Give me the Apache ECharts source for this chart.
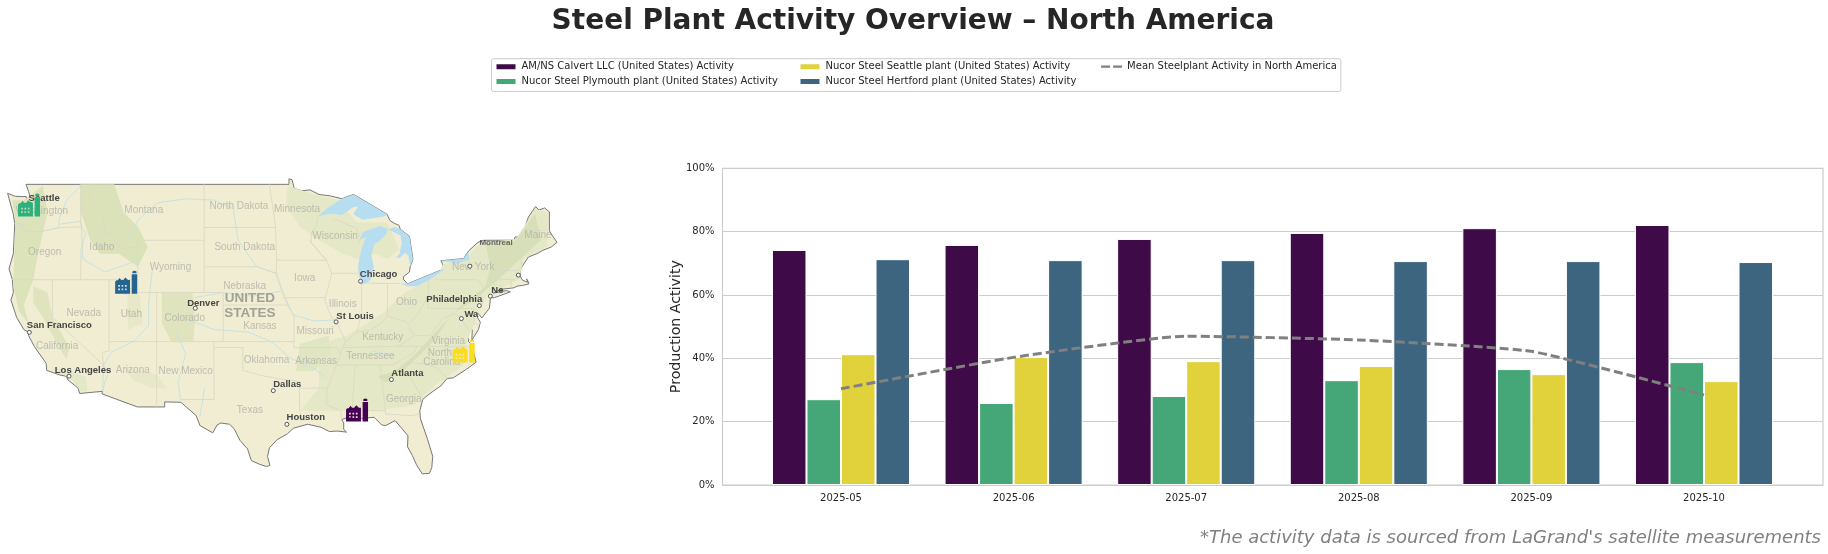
<!DOCTYPE html>
<html>
<head>
<meta charset="utf-8">
<script src="https://cdn.jsdelivr.net/npm/echarts@6/dist/echarts.min.js"></script>
<style>html,body{margin:0;padding:0;background:#fff}#c{width:1828px;height:554px}</style>
</head>
<body>
<div id="c"></div>
<script>
const categories = ['2025-05','2025-06','2025-07','2025-08','2025-09','2025-10'];
const calvert  = [74.2,75.8,77.7,79.6,81.1,82.1];
const plymouth = [27.1,25.9,28.1,33.1,36.6,38.8];
const seattle  = [41.3,40.4,39.1,37.6,35,32.8];
const hertford = [71.3,71,71,70.7,70.7,70.4];
const meanActivity = [30.4,40.3,47.0,45.8,42.2,28.4];
const yTicks = [0,20,40,60,80,100];

const usOutline = [[-124.7,48.38],[-123.9,48.17],[-123.1,48.15],[-122.75,48.15],[-122.6,47.4],[-122.4,47.5],[-122.25,47.95],[-122.5,48.5],[-122.76,49],[-95.15,49],[-95.15,49.38],[-94.82,49.32],[-94.6,48.72],[-93.8,48.55],[-92.95,48.62],[-92,48.3],[-90.8,48.2],[-89.6,48],[-88.37,48.3],[-84.85,46.9],[-84.55,46.45],[-84.1,46.25],[-83.6,46.1],[-83.45,45.8],[-82.5,45.3],[-82.13,43.6],[-82.42,43],[-82.5,42.6],[-83.1,42.25],[-83.15,42.05],[-82.7,41.68],[-78.93,42.83],[-79.05,43.27],[-79.2,43.46],[-76.8,43.63],[-76.3,44.2],[-75.3,44.85],[-74.7,45],[-71.5,45.01],[-71.4,45.25],[-70.85,45.25],[-70.4,45.8],[-70.25,46.2],[-70,46.7],[-69.25,47.45],[-68.9,47.2],[-68.3,47.35],[-67.8,47.07],[-67.8,45.7],[-67.45,45.3],[-67,44.85],[-67.6,44.5],[-68.5,44.25],[-69.1,44],[-70,43.75],[-70.6,43.1],[-70.8,42.85],[-70.9,42.3],[-70.6,41.95],[-70,41.8],[-70.2,42.07],[-69.95,41.68],[-70.65,41.55],[-71.2,41.5],[-71.5,41.37],[-72.9,41.25],[-73.7,40.95],[-72.3,41.15],[-71.9,41.05],[-73.6,40.58],[-74,40.58],[-74,40.45],[-74.1,39.75],[-74.9,38.95],[-75.15,39.2],[-75.55,39.5],[-75.4,39.05],[-75.05,38.6],[-75.25,38],[-75.95,37.1],[-75.9,37.9],[-76.2,38.6],[-76.5,39.2],[-76.4,38.4],[-76.3,37.8],[-76.3,37],[-75.95,36.75],[-75.5,35.25],[-76.5,34.65],[-77.9,33.9],[-78.55,33.85],[-79.2,33.2],[-80.4,32.5],[-81.1,32],[-81.4,31],[-81.35,30.3],[-80.6,28.4],[-80.05,26.8],[-80.15,25.75],[-80.4,25.2],[-81.15,25.15],[-81.75,26],[-82.2,26.9],[-82.7,27.7],[-82.65,28.7],[-83.4,29.5],[-84,30.1],[-85,29.65],[-85.4,29.7],[-86.2,30.4],[-87.5,30.3],[-88,30.25],[-88.9,30.4],[-89.6,30.2],[-89.4,29.9],[-89.4,29.3],[-89.1,29.05],[-90.1,29.15],[-90.9,29.1],[-91.8,29.5],[-93.2,29.77],[-94.7,29.4],[-95.3,28.9],[-96.4,28.35],[-97.2,27.6],[-97.4,26.8],[-97.15,25.95],[-97.5,25.85],[-98.2,26.05],[-99.1,26.4],[-99.5,27.5],[-100.3,28.3],[-100.9,29.35],[-101.4,29.77],[-102.3,29.88],[-102.7,29.7],[-103.15,28.98],[-104.5,29.65],[-104.9,30.55],[-106.5,31.75],[-108.2,31.78],[-108.2,31.33],[-111.07,31.33],[-114.8,32.5],[-114.72,32.72],[-117.13,32.53],[-117.3,33],[-118.4,33.75],[-118.5,34.03],[-119.2,34.15],[-120.6,34.55],[-120.65,35.15],[-121.9,36.6],[-122.5,37.5],[-122.5,37.78],[-123,38],[-123.75,39],[-124.35,40.4],[-124.1,41],[-124.2,42],[-124.55,42.85],[-124.1,44],[-123.95,46.2],[-124.1,46.9],[-124.7,48.38]];

const terrain = {
  east: [[-92,36],[-92,33],[-94,31],[-90,31],[-86,31],[-82,31.5],[-81.5,32],[-79.4,33.5],[-76.8,35],[-76.5,36.8],[-75.2,39.6],[-74.3,40.8],[-71,42],[-70.5,43.6],[-68,44.6],[-67.95,47],[-69.3,47.3],[-71.3,45.1],[-75,44.8],[-76.1,44],[-76.2,43.6],[-79,43.2],[-79.5,42.4],[-81,41.7],[-83,41],[-85,39.5],[-87,38.5],[-89,37.5],[-91,37]],
  lakes: [[-95.3,48.9],[-92,48.2],[-90,47.9],[-88,46.3],[-84.9,46.3],[-84.3,45.5],[-83.6,44.3],[-84.8,43.6],[-86.1,44],[-87.5,43.5],[-89.5,44],[-92,45],[-94,46],[-95.5,47.5]],
  appalachia: [[-85.8,34],[-84,34.5],[-81.8,36],[-79.5,38],[-77,40],[-74.5,41.5],[-74,43],[-74.5,44.8],[-71.5,44.9],[-69.3,46.9],[-68.7,45],[-71,43.5],[-73.5,41.8],[-75.5,40.5],[-78,39.3],[-80,37],[-82.5,35],[-85,33.5]],
  ozarks: [[-94,36.8],[-91,37.5],[-90.7,36],[-92.5,34.5],[-94.4,34.5]],
  cascades: [[-124.2,47.9],[-123,47.9],[-121,48.9],[-120.5,47],[-121.5,44],[-122,42],[-123,40],[-122.5,38.5],[-123.5,39.5],[-124.1,41.5],[-124,44],[-123.9,46.5]],
  rockiesNorth: [[-117,49],[-113.5,49],[-112.5,47],[-111,46],[-110,44.5],[-111,43],[-113,44],[-115,44],[-116,45],[-117,47]],
  sierra: [[-122,41.5],[-120.5,41],[-120,39],[-118.2,36.5],[-118.5,35.5],[-119.3,36.5],[-121,39],[-122,40.2]],
  rockiesCentral: [[-108.5,41],[-105.3,41],[-105,39],[-105.2,37],[-107.5,37],[-108.5,38.5]],
  socal: [[-120.3,34.7],[-118.7,34.6],[-116.5,34],[-116.3,32.8],[-117,32.7],[-117.9,33.7],[-119,34.3]],
  wasatch: [[-112,41.5],[-110.8,40.8],[-110.5,38.5],[-112,38],[-112.2,39.5]],
  gila: [[-112.5,34.8],[-109,34.2],[-108,33],[-109.5,33],[-111.5,33.7]]
};
const lakes = {
  superior: [[-92.1,46.75],[-90.8,46.95],[-89.6,46.85],[-88.4,47.4],[-87.9,47.45],[-88.4,46.9],[-87.4,46.5],[-85.5,46.7],[-85,46.8],[-84.85,46.9],[-88.37,48.3],[-89.6,48],[-91,47.4]],
  michigan: [[-87.55,41.65],[-87.8,42.3],[-87.9,43],[-87.7,43.8],[-87.5,44.4],[-87.05,45.25],[-87.6,45.1],[-88,44.55],[-87.4,45.6],[-86.5,45.85],[-85.5,46.05],[-84.75,45.8],[-85,45.4],[-85.6,45],[-86.2,44.7],[-86.5,43.9],[-86.25,43],[-86.5,42.1],[-87,41.7]],
  huron: [[-84.7,45.8],[-83.45,45.35],[-83.3,44.8],[-83.55,44],[-83.9,43.7],[-83.5,43.7],[-82.95,44.07],[-82.6,43.85],[-82.42,43],[-82.13,43.6],[-82.5,45.3],[-83.45,45.8],[-84.1,46]],
  erie: [[-83.45,41.72],[-82.7,41.5],[-81.7,41.5],[-80.5,41.95],[-79,42.7],[-78.93,42.83],[-82.7,41.68]],
  ontario: [[-79.2,43.46],[-77.5,43.25],[-76.2,43.55],[-76.3,44.2],[-76.8,43.63]],
  saltLake: [[-112.7,41.6],[-112.1,41.3],[-112.2,40.8],[-112.9,41]]
};
const stateLines = [
 [[-124,46.25],[-123.2,46.15],[-122.8,45.65],[-121.2,45.65],[-119.3,45.93],[-116.92,46]],
 [[-117.04,49],[-117.04,46.4],[-116.92,46],[-116.5,45.5],[-117,44.3],[-117.03,42]],
 [[-124.2,42],[-111.05,42]],
 [[-116.05,49],[-116.05,48],[-114.7,46.7],[-114.4,45.55],[-113.9,45.6],[-113.4,44.8],[-112.8,44.4],[-111.05,44.5]],
 [[-111.05,45],[-104.05,45]],[[-111.05,45],[-111.05,41],[-104.05,41]],[[-104.05,49],[-104.05,41]],
 [[-114.04,42],[-114.04,36.2],[-114.75,36.1],[-114.63,35],[-114.13,34.3],[-114.5,33.5],[-114.72,32.72]],
 [[-109.05,41],[-109.05,31.33]],[[-114.04,37],[-102.05,37],[-102.05,41],[-104.05,41]],
 [[-120,42],[-120,39],[-114.63,35]],[[-103.05,37],[-103,32],[-106.5,32]],
 [[-103,36.5],[-100,36.5],[-100,34.56],[-98,34.1],[-96,33.8],[-94.5,33.65],[-94.04,33.55],[-94.04,31],[-93.7,30.1]],
 [[-102.05,37],[-94.62,37]],[[-102.05,40],[-95.3,40]],[[-104.05,43],[-98.5,43],[-96.5,42.5],[-96,41.5],[-95.3,40],[-94.62,39.1],[-94.62,36.5]],
 [[-104.05,45.94],[-96.56,45.94]],[[-97.2,49],[-96.56,46],[-96.45,43.5],[-96.5,42.5]],[[-96.45,43.5],[-91.22,43.5]],
 [[-95.77,40.58],[-91.4,40.6]],[[-94.62,36.5],[-90.15,36.5],[-89.7,36]],[[-94.04,33],[-91.15,33]],
 [[-92.1,46.75],[-92.3,46],[-92.8,45.5],[-92.8,44.8],[-91.22,43.5],[-90.65,42.5],[-91.1,41.2],[-91.4,40.4],[-90.7,39],[-90.2,38.7],[-89.2,37],[-89.5,36.5],[-90.1,35.1],[-91.15,33],[-91.2,31.5],[-89.7,31],[-89.6,30.2]],
 [[-89.1,37],[-88,37.8],[-86.5,38],[-85.5,38.5],[-84.8,39.1],[-83,38.7],[-82.6,38.4],[-81.7,39.2],[-80.6,40.6]],
 [[-90.65,42.5],[-87.8,42.5]],[[-90.4,46.55],[-88.1,45.9],[-87.6,45.1]],[[-87.53,41.7],[-87.53,39.3],[-88,37.8]],[[-84.8,41.7],[-84.8,39.1]],[[-86.9,41.75],[-84.8,41.7],[-83.45,41.72]],
 [[-80.52,42],[-80.52,39.72]],[[-79.76,42.25],[-79.76,42],[-75.35,42],[-74.7,41.35],[-75.1,40.9],[-74.75,40.2],[-75.5,39.8]],[[-80.52,39.72],[-75.8,39.72],[-75.7,38.45],[-75.05,38.45]],
 [[-73.35,45],[-73.25,42.75],[-73.5,42.05],[-73.65,41]],[[-73.5,42.05],[-71.4,42]],[[-73.25,42.75],[-71.3,42.7],[-70.8,42.85]],[[-71.5,45],[-72.4,43.5],[-72.45,42.73]],[[-71.05,45.3],[-70.7,43.1]],[[-71.8,42],[-71.8,41.4]],
 [[-89.5,36.5],[-83.7,36.6],[-81.7,36.6],[-75.9,36.55]],[[-84.3,35],[-82,36.1],[-81.7,36.6]],[[-90.1,35],[-84.3,35]],
 [[-83.1,35],[-82.3,35.2],[-81,35.1],[-79.7,34.8],[-78.55,33.85]],[[-83.1,35],[-81.1,32.05]],[[-85.6,35],[-85.15,32],[-85,30.7],[-82.2,30.55],[-81.45,30.7]],[[-87.6,31],[-85,31]],[[-87.6,31],[-87.5,30.3]],[[-88.2,35],[-88.45,31.9],[-88.4,30.3]],
 [[-83.7,36.6],[-81.95,37.5],[-82.6,38.2]],[[-81.95,37.5],[-80.3,37.5],[-79,38.9],[-77.7,39.3],[-77,38.8],[-76.3,38]]
];
const rivers = [
 [[-117,48.9],[-118.5,47.9],[-119.3,46.5],[-119.3,45.93],[-121.2,45.65],[-122.8,45.65],[-123.9,46.2]],
 [[-110.7,43.6],[-112.5,43.1],[-114.5,42.6],[-116.8,43.6],[-116.9,45.2],[-117,46.4],[-119.1,46.2]],
 [[-112,45],[-111,46.5],[-109,47.7],[-106,48],[-103,47.9],[-101,47.3],[-100.5,45],[-98.5,43],[-96.5,42.5],[-96,41.3],[-94.7,39.2],[-92.5,38.7],[-90.2,38.8]],
 [[-93,45],[-91.22,43.5]],[[-109.5,42.8],[-109.9,40],[-109.9,38.3],[-111.5,37],[-113.8,36.1],[-114.63,35],[-114.72,32.72]],
 [[-107,37.8],[-106,36],[-106.8,33.5],[-106.5,31.75]],[[-106,38.9],[-103,38],[-99.5,37.8],[-97,37],[-95,35.6],[-92.5,34.7],[-91.2,33.9]],
 [[-105,40.6],[-102,41],[-99,40.7],[-96,41.1]],[[-104,33],[-104.5,30.5]],[[-86.5,36.2],[-84,35.8]]
];

const stateNames = [['Washington',-121.1,47.1],['Montana',-110.4,47.15],['North Dakota',-100.4,47.5],['Minnesota',-94.3,47.25],['Wisconsin',-90.3,45.3],['Oregon',-120.8,44.1],['Idaho',-114.8,44.5],['Wyoming',-107.6,43],['South Dakota',-99.8,44.5],['Iowa',-93.5,42.15],['Nebraska',-99.8,41.5],['Nevada',-116.7,39.3],['Utah',-111.7,39.25],['Colorado',-106.1,38.9],['Kansas',-98.2,38.3],['Illinois',-89.5,40.05],['Ohio',-82.8,40.2],['Missouri',-92.4,37.9],['Kentucky',-85.3,37.35],['Virginia',-78.4,37],['Tennessee',-86.6,35.8],['North',-79.3,36],['Carolina',-79.1,35.25],['California',-119.5,36.6],['Oklahoma',-97.5,35.45],['Arkansas',-92.3,35.35],['Arizona',-111.55,34.6],['New Mexico',-106,34.5],['Texas',-99.25,31],['Georgia',-83.1,32.05],['New York',-75.8,43],['Maine',-69,45.35]];
const countryNames = [['UNITED',-99.25,40.5],['STATES',-99.25,39.3]];
const cities = [['Seattle',-122.33,47.6,14,-6],['San Francisco',-122.42,37.77,30,-7],['Los Angeles',-118.25,34.05,14,-6],['Denver',-104.99,39.74,8,-5],['Chicago',-87.63,41.88,18,-7],['St Louis',-90.2,38.63,19,-6],['Philadelphia',-75.16,39.95,-25,-6],['Wa',-77.04,38.9,10,-4],['Ne',-74,40.71,7,-6],['Dallas',-96.8,32.78,14,-6],['Houston',-95.37,29.76,19,-7],['Atlanta',-84.39,33.75,16,-6],['',-71.06,42.36,0,0],['',-76.15,43.05,0,0]];
const clippedCities = [['Montreal',-73.4,44.85]];

const plantSites = [
  ['Nucor Steel Seattle plant',-122.45,47.55,'#2BB17C'],
  ['Nucor Steel Plymouth plant',-112.25,41.8,'#26648F'],
  ['Nucor Steel Hertford plant',-76.8,36.2,'#FBDD1F'],
  ['AM/NS Calvert LLC',-88,31.05,'#440154']
];
const factoryIcon = 'path://M0 66L0 32L4 28L8 28L13 21L18 27L24 27L30 20L38 27L44 27L44 66Z'
 + 'M9 41L9 46L14 46L14 41ZM19 41L19 46L24 46L24 41ZM29 41L29 46L34 46L34 41Z'
 + 'M9 51L9 56L14 56L14 51ZM19 51L19 56L24 56L24 51ZM29 51L29 56L34 56L34 51Z'
 + 'M49 66L49 11L65 11L65 66ZM51 8L51 3Q57 -1 63 3L63 8Z';
const dashIcon = 'path://M0 0L0.01 0L0 0ZM0 7L0.01 7L0 7ZM0 2.4H9V4.6H0ZM12 2.4H21V4.6H12Z';

const mercY = lat => Math.log(Math.tan(Math.PI/4 + lat*Math.PI/360))*180/Math.PI;
const invMercY = y => (2*Math.atan(Math.exp(y*Math.PI/180)) - Math.PI/2)*180/Math.PI;
const poly = (name, ring) => ({type:'Feature',properties:{name},geometry:{type:'Polygon',coordinates:[ring.concat([ring[0]])]}});
const features = [poly('US', usOutline)]
  .concat(Object.keys(terrain).map(k => poly(k, terrain[k])))
  .concat(Object.keys(lakes).map(k => poly(k, lakes[k])));
echarts.registerMap('usa', {type:'FeatureCollection', features});

const FONT = '"DejaVu Sans", sans-serif';
const terrainColor = {east:'#E4E8C6',lakes:'#E4E8C6',appalachia:'#D6DFB8',ozarks:'#E1E6C2',cascades:'#DCE3BB',rockiesNorth:'#DBE2B9',sierra:'#DFE4BE',rockiesCentral:'#DFE4BE',socal:'#E5E8C7',wasatch:'#E6E8C8',gila:'#E6E8C8'};
const regions = [{name:'US', itemStyle:{areaColor:'#F0EDD3',borderColor:'#777777',borderWidth:1}}]
  .concat(Object.keys(terrain).map(k => ({name:k, itemStyle:{areaColor:terrainColor[k],borderWidth:0}})))
  .concat(Object.keys(lakes).map(k => ({name:k, itemStyle:{areaColor:'#B6DDF0',borderWidth:0}})));

const barSeries = (name, data, color) => ({
  name, type:'bar', data, xAxisIndex:1, yAxisIndex:1, barGap:0, barCategoryGap:'20%',
  itemStyle:{color, borderColor:'#fff', borderWidth:1}, silent:true
});
const geoLines = (list, color, width, z) => ({
  type:'lines', coordinateSystem:'geo', geoIndex:0, polyline:true, silent:true, z,
  lineStyle:{color, width, opacity:1}, data:list.map(coords => ({coords}))
});
const geoText = (list, style, z) => ({
  type:'scatter', coordinateSystem:'geo', geoIndex:0, silent:true, symbolSize:0, z,
  data:list.map(d => ({value:[d[1],d[2]], name:d[0]})),
  label:Object.assign({show:true, position:'inside', formatter:'{b}'}, style)
});

const chart = echarts.init(document.getElementById('c'), null, {renderer:'canvas'});
chart.setOption({
  animation:false,
  backgroundColor:'#fff',
  title:[
    {text:'Steel Plant Activity Overview – North America', left:908, top:3, textAlign:'center',
     textStyle:{fontFamily:FONT,fontSize:28,fontWeight:'bold',color:'#262626'}},
    {text:"*The activity data is sourced from LaGrand's satellite measurements", right:2, top:524,
     textStyle:{fontFamily:FONT,fontSize:18,fontStyle:'italic',fontWeight:'normal',color:'#808080'}}
  ],
  legend:{
    orient:'vertical', left:491.5, top:58.7, height:34, itemWidth:21, itemHeight:7, itemGap:4.7,
    padding:[3,4,5,3], borderColor:'#CCCCCC', borderWidth:1, borderRadius:2, backgroundColor:'#fff',
    textStyle:{fontFamily:FONT,fontSize:10,color:'#262626'},
    data:[
      {name:'AM/NS Calvert LLC (United States) Activity',icon:'rect'},
      {name:'Nucor Steel Plymouth plant (United States) Activity',icon:'rect'},
      {name:'Nucor Steel Seattle plant (United States) Activity',icon:'rect'},
      {name:'Nucor Steel Hertford plant (United States) Activity',icon:'rect'},
      {name:'Mean Steelplant Activity in North America',icon:dashIcon}
    ],
    formatter:n => n.startsWith('Mean') ? n : n.includes('Hertford') ? n + '      ' : n + '     '
  },
  geo:{
    map:'usa', roam:false, silent:true, left:7.6, top:178.8, width:549.4, height:295.1,
    projection:{project:p => [p[0], -mercY(p[1])], unproject:p => [p[0], invMercY(-p[1])]},
    itemStyle:{areaColor:'#F0EDD3',borderWidth:0}, label:{show:false}, regions, emphasis:{disabled:true}
  },
  grid:[
    {left:722.5, top:168.3, width:1100.5, height:316.7, show:true, borderColor:'#CCCCCC', borderWidth:1.2, backgroundColor:'transparent', z:0},
    {left:754.7, top:168.3, width:1035.6, height:316.7}
  ],
  xAxis:[
    {gridIndex:0, type:'category', data:categories, show:false},
    {gridIndex:1, type:'category', data:categories, axisTick:{show:false}, axisLine:{show:false},
     axisLabel:{fontFamily:FONT,fontSize:10,color:'#262626',margin:8}}
  ],
  yAxis:[
    {gridIndex:0, type:'value', min:yTicks[0], max:yTicks[5], interval:yTicks[1], axisTick:{show:false}, axisLine:{show:false},
     splitLine:{lineStyle:{color:'#CCCCCC',width:1.2}},
     axisLabel:{fontFamily:FONT,fontSize:10,color:'#262626',margin:8,formatter:'{value}%'},
     name:'Production Activity', nameLocation:'middle', nameGap:39, nameRotate:90, nameMoveOverlap:false,
     nameTextStyle:{fontFamily:FONT,fontSize:14.2,color:'#262626'}},
    {gridIndex:1, type:'value', min:yTicks[0], max:yTicks[5], interval:yTicks[1], show:false, splitLine:{show:false}}
  ],
  series:[
    geoLines(rivers,'#C8E3E2',1,2),
    geoLines(stateLines,'#DCD9C4',0.9,3),
    geoText(stateNames,{fontFamily:'"Liberation Sans",sans-serif',fontSize:10,color:'#B0B0A6'},4),
    geoText(countryNames,{fontFamily:'"Liberation Sans",sans-serif',fontSize:13.5,fontWeight:'bold',color:'#8E8E86'},4),
    geoText(clippedCities,{fontFamily:'"Liberation Sans",sans-serif',fontSize:8,fontWeight:'bold',color:'#444'},4),
    {type:'scatter', coordinateSystem:'geo', geoIndex:0, silent:true, z:5, symbol:'circle', symbolSize:4,
     itemStyle:{color:'#fff',borderColor:'#555',borderWidth:1,opacity:1},
     data:cities.map(c => ({value:[c[1],c[2]], name:c[0], label:{offset:[c[3],c[4]]}})),
     label:{show:true, position:'inside', formatter:'{b}', fontFamily:'"Liberation Sans",sans-serif', fontSize:9.5, fontWeight:'bold', color:'#444'}},
    {type:'scatter', coordinateSystem:'geo', geoIndex:0, silent:true, z:6, symbol:factoryIcon, symbolSize:[22,23],
     data:plantSites.map(p => ({value:[p[1],p[2]], name:p[0], itemStyle:{color:p[3],opacity:1}}))},
    barSeries('AM/NS Calvert LLC (United States) Activity', calvert, '#3E0A47'),
    barSeries('Nucor Steel Plymouth plant (United States) Activity', plymouth, '#45A778'),
    barSeries('Nucor Steel Seattle plant (United States) Activity', seattle, '#E1D13B'),
    barSeries('Nucor Steel Hertford plant (United States) Activity', hertford, '#3D6580'),
    {name:'Mean Steelplant Activity in North America', type:'line', data:meanActivity, xAxisIndex:1, yAxisIndex:1, z:10,
     smooth:0.15, symbol:'none', silent:true, itemStyle:{color:'#808080'},
     lineStyle:{color:'#808080',width:3,type:[9,4]}}
  ]
});
</script>
</body>
</html>
